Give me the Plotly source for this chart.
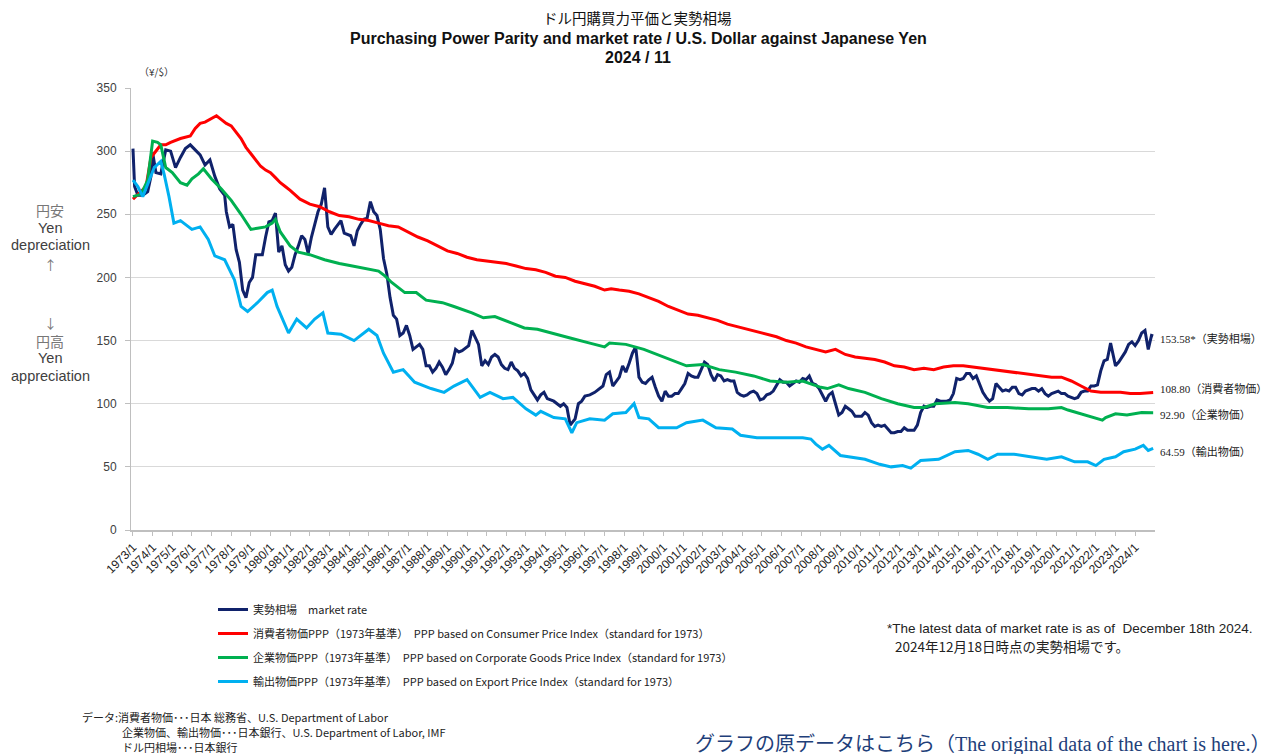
import plotly.graph_objects as go

# ---------------- data ----------------
market_dates = ["1973-01","1973-02","1973-04","1973-07","1973-10","1973-12","1974-01","1974-03","1974-06","1974-09","1974-12",
 "1975-03","1975-06","1975-09","1975-12","1976-03","1976-06","1976-09","1976-12","1977-03","1977-06","1977-09","1977-10","1977-12",
 "1978-02","1978-04","1978-06","1978-08","1978-10","1978-12","1979-02","1979-04","1979-06","1979-08","1979-10","1979-12",
 "1980-02","1980-04","1980-06","1980-08","1980-10","1980-12","1981-02","1981-04","1981-06","1981-08","1981-10","1981-12",
 "1982-02","1982-04","1982-06","1982-08","1982-10","1982-12","1983-02","1983-04","1983-06","1983-08","1983-10","1983-12",
 "1984-02","1984-04","1984-06","1984-08","1984-10","1984-12","1985-02","1985-04","1985-06","1985-08","1985-10","1985-12",
 "1986-02","1986-04","1986-06","1986-08","1986-10","1986-12","1987-02","1987-04","1987-06","1987-08","1987-10","1987-12",
 "1988-02","1988-04","1988-06","1988-08","1988-10","1988-12","1989-02","1989-04","1989-06","1989-08","1989-10","1989-12",
 "1990-02","1990-04","1990-06","1990-08","1990-10","1990-12","1991-02","1991-04","1991-06","1991-08","1991-10","1991-12",
 "1992-02","1992-04","1992-06","1992-08","1992-10","1992-12","1993-02","1993-04","1993-06","1993-08","1993-10","1993-12",
 "1994-02","1994-04","1994-06","1994-08","1994-10","1994-12","1995-02","1995-04","1995-05","1995-07","1995-09","1995-11",
 "1996-01","1996-04","1996-07","1996-10","1996-12","1997-02","1997-04","1997-06","1997-08","1997-10","1997-12",
 "1998-02","1998-04","1998-06","1998-08","1998-10","1998-12","1999-02","1999-04","1999-06","1999-08","1999-10","1999-12",
 "2000-02","2000-04","2000-06","2000-08","2000-10","2000-12","2001-02","2001-04","2001-06","2001-08","2001-10","2001-12",
 "2002-02","2002-04","2002-06","2002-08","2002-10","2002-12","2003-02","2003-04","2003-06","2003-08","2003-10","2003-12",
 "2004-02","2004-04","2004-06","2004-08","2004-10","2004-12","2005-02","2005-04","2005-06","2005-08","2005-10","2005-12",
 "2006-02","2006-04","2006-06","2006-08","2006-10","2006-12","2007-02","2007-04","2007-06","2007-08","2007-10","2007-12",
 "2008-02","2008-04","2008-06","2008-08","2008-10","2008-12","2009-02","2009-04","2009-06","2009-08","2009-10","2009-12",
 "2010-02","2010-04","2010-06","2010-08","2010-10","2010-12","2011-02","2011-04","2011-06","2011-08","2011-10","2011-12",
 "2012-02","2012-04","2012-06","2012-08","2012-10","2012-12","2013-02","2013-04","2013-06","2013-08","2013-10","2013-12",
 "2014-02","2014-04","2014-06","2014-08","2014-10","2014-12","2015-02","2015-04","2015-06","2015-08","2015-10","2015-12",
 "2016-02","2016-04","2016-06","2016-08","2016-10","2016-12","2017-02","2017-04","2017-06","2017-08","2017-10","2017-12",
 "2018-02","2018-04","2018-06","2018-08","2018-10","2018-12","2019-02","2019-04","2019-06","2019-08","2019-10","2019-12",
 "2020-02","2020-04","2020-06","2020-08","2020-10","2020-12","2021-02","2021-04","2021-06","2021-08","2021-10","2021-12",
 "2022-02","2022-04","2022-06","2022-08","2022-10","2022-12","2023-01","2023-03","2023-05","2023-07","2023-09","2023-11",
 "2024-01","2024-03","2024-05","2024-07","2024-09","2024-11","2024-12"]
market_rate = [302,272,265,265,268,280,299,283,282,301,300,
 287,295,302,305,301,297,289,293,280,270,265,252,240,
 242,222,212,190,184,196,200,218,218,218,232,244,
 245,251,220,225,210,205,208,218,225,233,230,219,
 232,243,252,258,271,240,234,238,242,245,235,234,
 233,225,237,242,246,247,260,252,249,238,215,203,
 184,170,167,154,156,162,154,143,145,147,143,130,
 130,125,128,133,129,123,127,132,143,141,142,144,
 146,158,153,147,130,134,131,137,139,137,131,128,
 127,133,128,126,122,124,120,111,107,103,107,109,
 104,103,102,100,98,100,97,83,85,88,100,102,
 106,107,109,112,114,123,125,114,118,121,130,
 125,132,140,145,121,117,116,119,121,113,106,102,
 110,106,106,108,108,112,116,124,122,121,121,127,
 133,131,123,118,123,122,118,119,118,118,109,107,
 106,107,109,110,108,103,104,107,108,110,114,119,
 117,117,114,116,118,117,120,119,122,116,115,112,
 107,102,107,109,100,91,93,98,96,94,90,90,
 90,93,91,85,82,83,82,83,80,77,77,78,
 78,81,79,79,79,83,93,98,97,98,98,103,
 102,102,102,103,108,120,119,120,124,124,120,122,
 115,109,105,102,104,116,113,110,111,110,113,113,
 108,107,110,111,112,112,110,112,108,106,108,109,
 110,108,108,106,105,104,105,109,110,110,114,114,
 115,126,134,135,148,135,130,133,137,141,147,149,
 146,150,156,158,143,154,153.58]

cpi_dates = ["1973-01","1973-06","1973-09","1973-12","1974-03","1974-06","1974-09","1974-12","1975-06","1975-12","1976-03","1976-06",
 "1976-09","1977-01","1977-04","1977-07","1977-10","1978-01","1978-04","1978-07","1978-10","1979-01","1979-04","1979-07","1979-10",
 "1980-01","1980-04","1980-07","1980-10","1981-01","1981-07","1982-01","1982-07","1983-01","1983-07","1984-01","1984-07","1985-01",
 "1985-07","1986-01","1986-07","1987-01","1987-07","1988-01","1988-07","1989-01","1989-07","1990-01","1990-07","1991-01","1991-07",
 "1992-01","1992-07","1993-01","1993-07","1994-01","1994-07","1995-01","1995-07","1996-01","1996-07","1997-01","1997-05","1997-10",
 "1998-04","1998-10","1999-04","1999-10","2000-04","2000-10","2001-04","2001-10","2002-04","2002-10","2003-04","2003-10","2004-04",
 "2004-10","2005-04","2005-10","2006-04","2006-10","2007-04","2007-10","2008-04","2008-10","2009-04","2009-10","2010-04","2010-10",
 "2011-04","2011-10","2012-04","2012-10","2013-04","2013-10","2014-04","2014-10","2015-04","2015-10","2016-04","2016-10","2017-04",
 "2017-10","2018-04","2018-10","2019-04","2019-10","2020-04","2020-10","2021-04","2021-10","2022-04","2022-10","2023-04","2023-10",
 "2024-04","2024-12"]
cpi_ppp = [262,268,272,295,300,305,305,307,310,312,318,322,
 323,326,328,325,322,320,315,310,303,298,293,288,285,
 283,279,275,272,269,262,258,256,252,249,248,246,245,
 243,241,240,236,232,229,225,221,219,216,214,213,212,
 211,209,207,206,204,201,200,197,195,193,190,191,190,
 189,187,184,181,177,174,171,170,168,166,163,161,159,
 157,155,153,150,148,145,143,141,143,139,137,136,135,
 133,130,129,127,128,127,129,130,130,129,128,127,126,
 125,124,123,122,121,121,118,114,110,109,109,109,108,
 108,108.80]

cgpi_dates = ["1973-01","1973-06","1973-10","1974-01","1974-04","1974-06","1974-09","1975-01","1975-06","1975-10","1976-01","1976-05",
 "1976-08","1977-01","1977-07","1978-01","1978-07","1979-01","1979-05","1979-10","1980-02","1980-04","1980-07","1981-01","1981-06",
 "1982-01","1982-10","1983-07","1984-03","1984-11","1985-07","1985-11","1986-03","1986-11","1987-06","1987-12","1988-10","1989-05",
 "1990-04","1990-11","1991-06","1992-04","1992-12","1993-08","1994-04","1995-04","1996-04","1997-01","1997-04","1998-02","1999-01",
 "1999-11","2000-07","2001-03","2002-01","2002-11","2003-09","2004-08","2005-06","2006-04","2007-02","2008-01","2008-05","2008-12",
 "2009-06","2010-04","2011-02","2011-12","2012-10","2013-04","2013-11","2014-11","2015-07","2016-07","2017-07","2018-08","2019-08",
 "2020-04","2020-08","2021-04","2022-01","2022-05","2022-07","2023-01","2023-08","2024-05","2024-12"]
cgpi_ppp = [264,266,277,308,307,305,287,283,275,273,278,282,
 286,278,270,261,250,238,239,240,243,246,236,225,220,
 218,214,211,209,207,205,201,196,188,188,182,180,177,
 172,168,169,164,160,159,156,152,148,145,148,147,143,
 138,134,130,131,127,125,122,118,117,118,113,112,115,
 112,109,104,100,97,97,100,101,100,97,97,96,96,
 97,95,92,89,87,89,92,91,93,92.90]

export_dates = ["1973-01","1973-04","1973-07","1973-10","1974-02","1974-06","1974-08","1974-11","1975-02","1975-06","1976-01","1976-06",
 "1976-11","1977-03","1977-09","1978-03","1978-07","1978-11","1979-05","1979-11","1980-02","1980-05","1980-12","1981-05","1981-11",
 "1982-04","1982-09","1982-12","1983-08","1984-04","1985-01","1985-06","1985-10","1986-04","1986-10","1987-05","1988-03","1988-11",
 "1989-05","1990-01","1990-07","1990-09","1991-03","1991-11","1992-05","1993-01","1993-07","1993-10","1994-06","1995-01","1995-05",
 "1995-08","1996-04","1997-01","1997-06","1998-02","1998-07","1998-10","1999-04","1999-10","2000-09","2001-03","2002-01","2002-09",
 "2003-07","2003-12","2004-10","2005-06","2006-02","2007-02","2007-07","2007-10","2008-02","2008-06","2009-01","2009-07","2010-04",
 "2011-01","2011-08","2012-03","2012-08","2013-02","2014-01","2014-11","2015-07","2016-01","2016-07","2017-01","2017-11","2018-09",
 "2019-07","2020-04","2020-12","2021-08","2022-01","2022-06","2023-01","2023-06","2024-01","2024-06","2024-09","2024-12"]
export_ppp = [277,272,264,274,287,292,282,264,243,245,238,240,
 230,217,214,198,177,173,180,188,190,177,156,167,160,
 167,172,156,155,150,159,154,140,125,127,117,112,109,
 114,119,108,105,109,104,105,96,91,94,89,88,77,
 85,88,87,92,93,100,89,88,81,81,85,87,81,
 80,75,73,73,73,73,72,68,64,67,59,58,56,
 52,50,51,49,55,56,62,63,60,56,60,60,58,
 56,58,54,54,51,56,58,62,64,67,63,64.59]

year_ticks = list(range(1973, 2025))
tick_labels = [f"{y}/1" for y in year_ticks]
y_ticks = [0, 50, 100, 150, 200, 250, 300, 350]

series_names = [
    "実勢相場　market rate",
    "消費者物価PPP（1973年基準）　PPP based on Consumer Price Index（standard for 1973）",
    "企業物価PPP（1973年基準）　PPP based on Corporate Goods Price Index（standard for 1973）",
    "輸出物価PPP（1973年基準）　PPP based on Export Price Index（standard for 1973）",
]
end_labels = ["153.58*（実勢相場）", "108.80（消費者物価）", "92.90（企業物価）", "64.59（輸出物価）"]

# ---------------- helpers ----------------
def to_year(d):
    y, m = d.split("-")
    return int(y) + (int(m) - 1) / 12.0

OFF = 8  # page body margin offset
W, H = 1271, 754
ML, MT = 131 - OFF, 88 - OFF
PW, PH = 1024, 442
MR, MB = W - ML - PW, H - MT - PH

def px(x):  # screen pixel x -> paper
    return (x - OFF - ML) / PW

def py(y):  # screen pixel y -> paper
    return (MT + PH - (y - OFF)) / PH

colors = ["#10226b", "#ff0000", "#00b050", "#00b0f0"]
dates_list = [market_dates, cpi_dates, cgpi_dates, export_dates]
vals_list = [market_rate, cpi_ppp, cgpi_ppp, export_ppp]

fig = go.Figure()
for i in range(4):
    fig.add_trace(go.Scatter(
        x=[to_year(d) for d in dates_list[i]], y=vals_list[i],
        mode="lines", name=series_names[i], legendgroup=f"g{i}",
        line=dict(color=colors[i], width=3),
    ))

axis_col = "#bfbfbf"
fig.update_layout(
    width=W, height=H,
    margin=dict(l=ML, r=MR, t=MT, b=MB),
    paper_bgcolor="white", plot_bgcolor="white",
    font=dict(family="Noto Sans CJK JP, Noto Sans, sans-serif", color="#333333"),
    showlegend=True,
    legend=dict(x=px(213), y=py(595), xanchor="left", yanchor="top",
                font=dict(size=11, color="#222222", family="Noto Sans CJK JP, sans-serif"),
                tracegroupgap=5, itemwidth=30, bgcolor="rgba(0,0,0,0)"),
    xaxis=dict(range=[1972.9, 2025.01], tickmode="array", tickvals=year_ticks, ticktext=tick_labels,
               tickangle=-45, tickfont=dict(size=12, color="#222222", family="Liberation Sans, sans-serif"),
               showgrid=False, showline=True, linecolor=axis_col, linewidth=1.5,
               ticks="outside", ticklen=4, tickcolor=axis_col, zeroline=False),
    yaxis=dict(range=[0, 350], tickmode="array", tickvals=y_ticks,
               tickfont=dict(size=12, color="#404040", family="Liberation Sans, sans-serif"),
               showgrid=True, gridcolor="#d9d9d9", gridwidth=1,
               showline=True, linecolor=axis_col, linewidth=1,
               ticks="outside", ticklen=5, tickcolor=axis_col, zeroline=False,
               ticklabelstandoff=6),
)

ann = []
def text(x, y, s, size=12, color="#333333", family=None, xanchor="left", yanchor="middle", bold=False):
    f = dict(size=size, color=color)
    if family:
        f["family"] = family
    ann.append(dict(xref="paper", yref="paper", x=px(x), y=py(y), text=(f"<b>{s}</b>" if bold else s),
                    showarrow=False, xanchor=xanchor, yanchor=yanchor, font=f))

# titles
text(637, 18, "ドル円購買力平価と実勢相場", size=14.5, color="#111111", xanchor="center")
text(638, 39, "Purchasing Power Parity and market rate / U.S. Dollar against Japanese Yen", size=16,
     color="#111111", family="Liberation Sans, sans-serif", xanchor="center", bold=True)
text(638, 57, "2024 / 11", size=16, color="#111111", family="Liberation Sans, sans-serif",
     xanchor="center", bold=True)
text(156, 72, "（¥/$）", size=10, color="#333333", xanchor="center")

# left side explanation
lc = "#404040"
sf = "Liberation Sans, sans-serif"
text(50, 210, "円安", size=14, color="#777777", xanchor="center")
text(50, 228, "Yen", size=14.5, color=lc, xanchor="center", family=sf)
text(50, 245, "depreciation", size=14.5, color=lc, xanchor="center", family=sf)
text(50, 264, "↑", size=13, color="#777777", xanchor="center")
text(50, 322, "↓", size=13, color="#777777", xanchor="center")
text(50, 341, "円高", size=14, color="#777777", xanchor="center")
text(50, 358, "Yen", size=14.5, color=lc, xanchor="center", family=sf)
text(50, 376, "appreciation", size=14.5, color=lc, xanchor="center", family=sf)

# end-of-line value labels (vertical position from the series' last value)
end_shift = [-2, 4, -2, -3]
for i in range(4):
    ann.append(dict(xref="paper", yref="y", x=px(1158), y=vals_list[i][-1], text=end_labels[i], showarrow=False,
                    xanchor="left", yanchor="middle", yshift=end_shift[i],
                    font=dict(size=11, color="#222222", family="Liberation Serif, Noto Sans CJK JP, serif")))

# footnote
text(885, 628, "*The latest data of market rate is as of  December 18th 2024.", size=13.5, color="#222222",
     family="Liberation Sans, Noto Sans CJK JP, sans-serif")
text(893, 646, "2024年12月18日時点の実勢相場です。", size=13.5, color="#222222")

# data sources
src_font = "Liberation Sans Narrow, Noto Sans CJK JP, sans-serif"
text(80, 717, "データ:消費者物価･･･日本 総務省、U.S. Department of Labor", size=11, color="#222222", family=src_font)
text(120, 732, "企業物価、輸出物価･･･日本銀行、U.S. Department of Labor, IMF", size=11, color="#222222", family=src_font)
text(120, 747, "ドル円相場･･･日本銀行", size=11, color="#222222", family=src_font)

# link text
text(693, 744, "グラフの原データはこちら（The original data of the chart is here.）", size=20, color="#1f3f7a",
     family="Liberation Serif, Noto Sans CJK JP, serif")

fig.update_layout(annotations=ann)
fig.write_html("out.html")
